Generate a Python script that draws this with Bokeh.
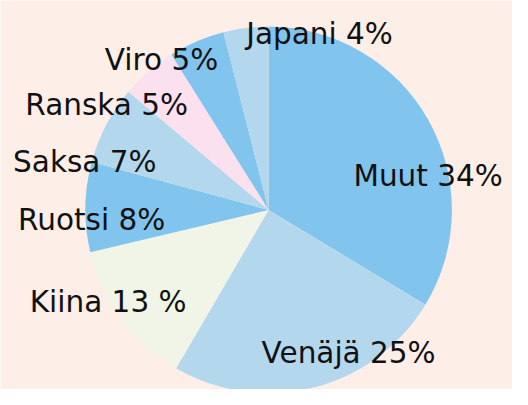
import math
from bokeh.plotting import figure
from bokeh.models import ColumnDataSource, Range1d
from bokeh.core.properties import value
from bokeh.embed import file_html
from bokeh.resources import INLINE

# ---- data ----
countries = ["Muut", "Venäjä", "Kiina", "Ruotsi", "Saksa", "Ranska", "Viro", "Japani"]
shares = [34, 25, 13, 8, 7, 5, 5, 4]
label_texts = ["Muut 34%", "Venäjä 25%", "Kiina 13 %", "Ruotsi 8%", "Saksa 7%",
               "Ranska 5%", "Viro 5%", "Japani 4%"]

# ---- style / layout ----
colors = ["#81c4ee", "#b3d8ee", "#f0f5e7", "#81c4ee", "#b3d8ee", "#fbe0ee", "#81c4ee", "#b3d8ee"]
BG = "#fdeee8"
CX, CY, R = 276.5, 405 - 218, 189
# label anchors (center x, baseline y) in reference pixel space
label_cx = [441, 359, 111, 94, 87, 109.5, 166, 329]
label_by = [182.7, 367, 314, 229, 168, 109, 61.7, 35]

total = float(sum(shares))
starts, ends = [], []
cum = 0.0
for s in shares:
    a0 = math.pi / 2 - 2 * math.pi * cum / total
    cum += s
    a1 = math.pi / 2 - 2 * math.pi * cum / total
    starts.append(a0)
    ends.append(a1)

src = ColumnDataSource(dict(country=countries, share=shares, start=starts, end=ends,
                            color=colors))
lsrc = ColumnDataSource(dict(x=label_cx, y=[405 - b for b in label_by], text=label_texts))

p = figure(width=512, height=389, output_backend="svg", toolbar_location=None,
           x_range=Range1d(0, 528), y_range=Range1d(0, 405),
           min_border=0, background_fill_color=BG, border_fill_color=BG)
p.axis.visible = False
p.grid.visible = False
p.outline_line_color = None

p.wedge(x=CX, y=CY, radius=R, start_angle="start", end_angle="end", direction="clock",
        fill_color="color", line_color=None, source=src)

p.text(x="x", y="y", text="text", source=lsrc, text_align="center",
       text_baseline="alphabetic", text_font=value("DejaVu Sans"), text_font_size="29.5px",
       text_color="#111111")

open("out.html", "w").write(file_html(p, INLINE))
